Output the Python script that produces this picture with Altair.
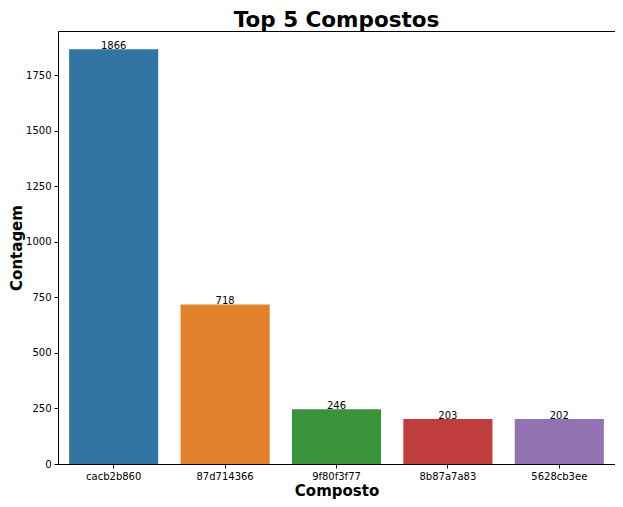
import altair as alt
import pandas as pd

compostos = ["cacb2b860", "87d714366", "9f80f3f77", "8b87a7a83", "5628cb3ee"]
contagens = [1866, 718, 246, 203, 202]
cores = ["#3274a1", "#e1812c", "#3a923a", "#c03d3e", "#9372b2"]

df = pd.DataFrame({"Composto": compostos, "Contagem": contagens})

x = alt.X("Composto:N", sort=None, title="Composto",
          scale=alt.Scale(paddingInner=0.2, paddingOuter=0.1),
          axis=alt.Axis(labelAngle=0, labelFontSize=10, titleFontSize=15,
                        titleFontWeight="bold", titlePadding=2, tickSize=4,
                        labelPadding=3, domainColor="black", tickColor="black",
                        labelColor="black", titleColor="black"))
y = alt.Y("Contagem:Q", title="Contagem",
          scale=alt.Scale(domain=[0, 1948], nice=False),
          axis=alt.Axis(values=[0, 250, 500, 750, 1000, 1250, 1500, 1750],
                        format="d", grid=False, labelFontSize=10, titleFontSize=15,
                        titleFontWeight="bold", titlePadding=1, tickSize=4,
                        labelPadding=3, domainColor="black", tickColor="black",
                        labelColor="black", titleColor="black"))

bars = alt.Chart(df).mark_bar().encode(
    x=x, y=y,
    color=alt.Color("Composto:N", sort=None,
                    scale=alt.Scale(domain=compostos, range=cores), legend=None),
)
text = alt.Chart(df).mark_text(baseline="alphabetic", align="center",
                               fontSize=10, color="black").encode(
    x=alt.X("Composto:N", sort=None), y=alt.Y("Contagem:Q"),
    text=alt.Text("Contagem:Q", format="d"),
)

chart = alt.layer(bars, text).properties(
    width=557, height=433,
    title=alt.Title("Top 5 Compostos", fontSize=21.5, fontWeight="bold",
                    color="black", offset=0, anchor="middle"),
    autosize=alt.AutoSizeParams(type="none"),
    padding={"left": 50, "top": 23, "right": 0, "bottom": 35},
).configure(font="DejaVu Sans").configure_view(stroke="black", strokeWidth=1)

chart.save("out.html", embed_options={"renderer": "svg", "actions": False})
